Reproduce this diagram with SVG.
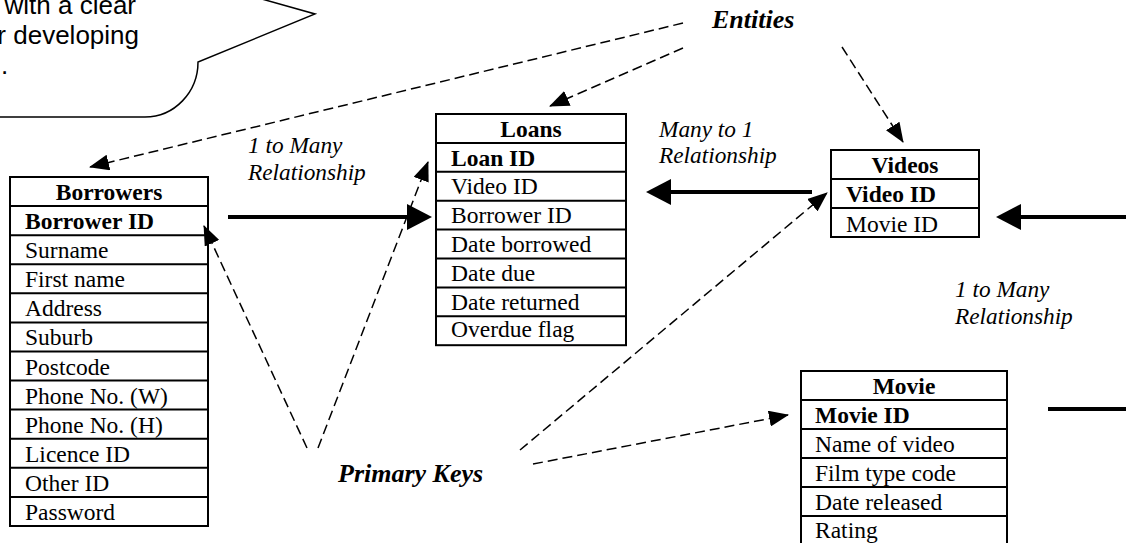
<svg xmlns="http://www.w3.org/2000/svg" width="1126" height="543" viewBox="0 0 1126 543">
<style>
.tbl{fill:#fff;stroke:#000;stroke-width:2}
.div{stroke:#000;stroke-width:2}
.t{font-family:"Liberation Serif","Times New Roman",serif;font-size:23.5px;fill:#000}
.b{font-weight:bold}
.h{text-anchor:middle;font-weight:bold}
.lab{font-family:"Liberation Serif","Times New Roman",serif;font-size:23.3px;font-style:italic;fill:#000}
.key{font-family:"Liberation Serif","Times New Roman",serif;font-size:26px;font-style:italic;font-weight:bold;fill:#000}
.call{font-family:"Liberation Sans",Arial,sans-serif;font-size:26px;fill:#000}
.solid{stroke:#000;stroke-width:4;fill:none}
.dash{stroke:#000;stroke-width:1.5;fill:none;stroke-dasharray:10 5}
</style>
<defs>
<marker id="hs" markerUnits="userSpaceOnUse" markerWidth="25" markerHeight="26" viewBox="0 0 25 26" refX="0" refY="13" orient="auto">
<path d="M0,0 L25,13 L0,26 z" fill="#000"/>
</marker>
<marker id="hd" markerUnits="userSpaceOnUse" markerWidth="20" markerHeight="16" viewBox="0 0 20 16" refX="19" refY="8" orient="auto">
<path d="M0,0 L20,8 L0,16 z" fill="#000"/>
</marker>
</defs>
<rect width="1126" height="543" fill="#fff"/>

<g id="callout">
<path d="M-10,117 L145,117 A53,55 0 0 0 198,62 L315,14 L198,-19" fill="none" stroke="#000" stroke-width="1.5"/>
<text class="call" x="136" y="14" text-anchor="end">with a clear</text>
<text class="call" x="139" y="44" text-anchor="end">r developing</text>
<text class="call" x="1" y="74">.</text>
</g>

<g id="borrowers">
<rect class="tbl" x="10" y="177" width="198" height="349"/>
<path class="div" d="M10,206.1H208M10,235.2H208M10,264.2H208M10,293.3H208M10,322.4H208M10,351.5H208M10,380.6H208M10,409.6H208M10,438.7H208M10,467.8H208M10,496.9H208"/>
<text class="t h" x="109" y="200">Borrowers</text>
<text class="t b" x="25" y="229">Borrower ID</text>
<text class="t" x="25" y="258">Surname</text>
<text class="t" x="25" y="287">First name</text>
<text class="t" x="25" y="316">Address</text>
<text class="t" x="25" y="345">Suburb</text>
<text class="t" x="25" y="374.5">Postcode</text>
<text class="t" x="25" y="403.5">Phone No. (W)</text>
<text class="t" x="25" y="432.6">Phone No. (H)</text>
<text class="t" x="25" y="461.7">Licence ID</text>
<text class="t" x="25" y="490.8">Other ID</text>
<text class="t" x="25" y="520">Password</text>
</g>

<g id="loans">
<rect class="tbl" x="436" y="114" width="190" height="231.2"/>
<path class="div" d="M436,142.9H626M436,171.8H626M436,200.7H626M436,229.6H626M436,258.5H626M436,287.4H626M436,316.3H626"/>
<text class="t h" x="531" y="137">Loans</text>
<text class="t b" x="451" y="166">Loan ID</text>
<text class="t" x="451" y="194">Video ID</text>
<text class="t" x="451" y="223">Borrower ID</text>
<text class="t" x="451" y="252">Date borrowed</text>
<text class="t" x="451" y="281">Date due</text>
<text class="t" x="451" y="310">Date returned</text>
<text class="t" x="451" y="337">Overdue flag</text>
</g>

<g id="videos">
<rect class="tbl" x="831" y="150" width="148" height="87"/>
<path class="div" d="M831,179H979M831,208H979"/>
<text class="t h" x="905" y="173">Videos</text>
<text class="t b" x="846" y="202">Video ID</text>
<text class="t" x="846" y="231.5">Movie ID</text>
</g>

<g id="movie">
<rect class="tbl" x="801" y="371" width="206" height="175"/>
<path class="div" d="M801,400H1007M801,429H1007M801,458H1007M801,487H1007M801,516H1007"/>
<text class="t h" x="904" y="394">Movie</text>
<text class="t b" x="815" y="423">Movie ID</text>
<text class="t" x="815" y="452">Name of video</text>
<text class="t" x="815" y="481">Film type code</text>
<text class="t" x="815" y="510">Date released</text>
<text class="t" x="815" y="538">Rating</text>
</g>

<g id="labels">
<text class="key" x="712" y="28">Entities</text>
<text class="key" x="338" y="482">Primary Keys</text>
<text class="lab" x="248" y="153">1 to Many</text>
<text class="lab" x="248" y="180">Relationship</text>
<text class="lab" x="659" y="137">Many to 1</text>
<text class="lab" x="659" y="163">Relationship</text>
<text class="lab" x="955" y="297">1 to Many</text>
<text class="lab" x="955" y="324">Relationship</text>
</g>

<g id="connectors">
<path class="solid" d="M228,217 H407" marker-end="url(#hs)"/>
<path class="solid" d="M812,192 H671" marker-end="url(#hs)"/>
<path class="solid" d="M1126,217 H1021" marker-end="url(#hs)"/>
<path class="solid" d="M1048,409 H1126"/>
<path class="dash" d="M683,23 L90,167" marker-end="url(#hd)"/>
<path class="dash" d="M683,48 L550,106" marker-end="url(#hd)"/>
<path class="dash" d="M842,47 L903,142" marker-end="url(#hd)"/>
<path class="dash" d="M307,448 L204,226" marker-end="url(#hd)"/>
<path class="dash" d="M318,448 L428,162" marker-end="url(#hd)"/>
<path class="dash" d="M520,450 L827,193" marker-end="url(#hd)"/>
<path class="dash" d="M533,464 L788,415" marker-end="url(#hd)"/>
</g>
</svg>
